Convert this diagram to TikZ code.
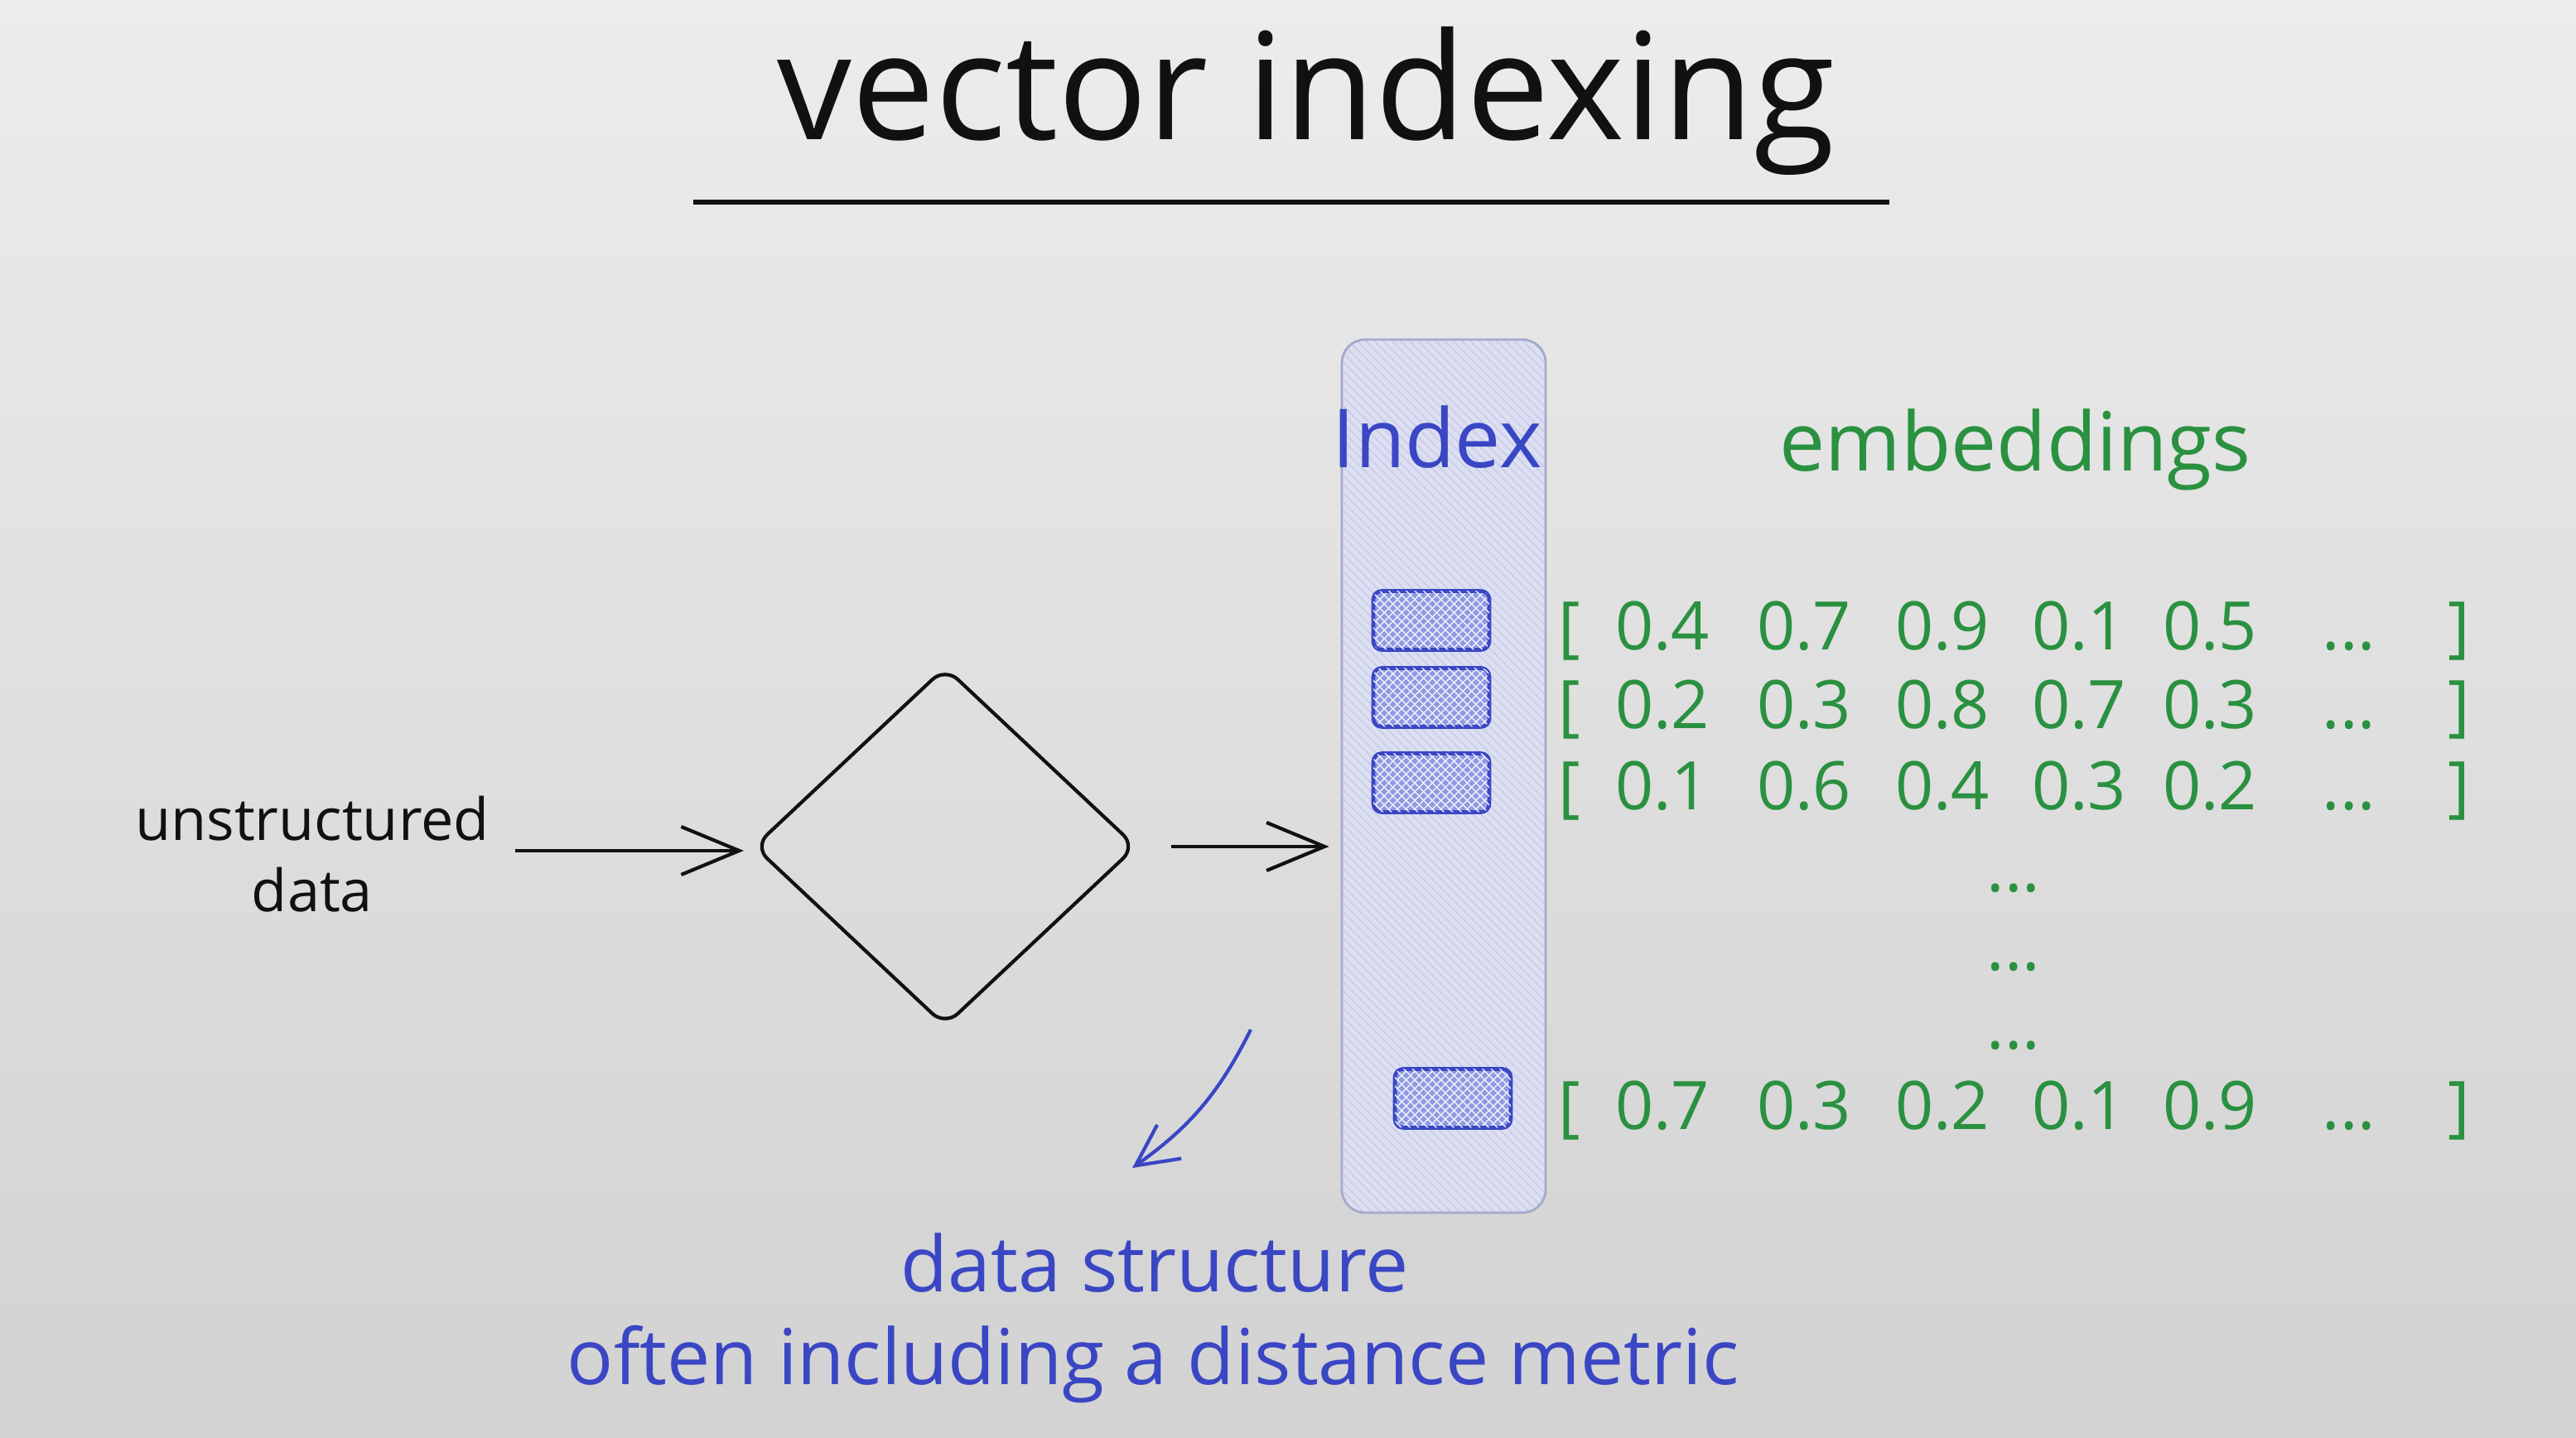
\documentclass[tikz,border=0pt]{standalone}
\usepackage{fontspec}
\setmainfont{Open Sans}
\usetikzlibrary{arrows.meta,positioning,calc,patterns,shapes.geometric}
\definecolor{inkblue}{HTML}{3A46C4}
\definecolor{inkgreen}{HTML}{2A9140}
\definecolor{inkblack}{HTML}{111111}
\definecolor{colfill}{HTML}{DCDFF4}
\definecolor{colline}{HTML}{A4AACB}
\definecolor{cellfill}{HTML}{8E9AE2}
\definecolor{bgtop}{HTML}{ECECEC}
\definecolor{bgbot}{HTML}{D2D2D2}
\tikzset{
        every node/.style={inner sep=0pt}, % Text sits right on its anchor
        sketch/.style={ % Black strokes and open arrow heads
            draw=inkblack,
            line width=1.2pt,
            -{Straight Barb[length=0.7cm,width=0.58cm,line width=1.2pt]}},
        column/.style={ % The tall hatched index box
            draw=colline,
            line width=0.8pt,
            rounded corners=0.28cm,
            preaction={fill=colfill},
            pattern=north west lines,
            pattern color=colline!60},
        cell/.style={ % Crosshatched slots in the index
            draw=inkblue,
            line width=1.3pt,
            rounded corners=0.1cm,
            minimum width=1.4cm,
            minimum height=0.71cm,
            preaction={fill=cellfill},
            pattern=north east lines,
            pattern color=white!85!cellfill,
            postaction={pattern=north west lines, pattern color=white!85!cellfill}},
        vec/.style={ % One value of an embedding
            text=inkgreen,
            anchor=base,
            font=\fontsize{23}{27}\selectfont}
        }

\begin{document}
\begin{tikzpicture}
    \useasboundingbox (0,0) rectangle (31.1,17.36);
    \shade[top color=bgtop, middle color=bgtop, bottom color=bgbot] (0,0) rectangle (31.1,17.36);

    % title
    \node[anchor=base, text=inkblack, font=\fontsize{51}{60}\selectfont] (title) at (15.77,15.67) {vector indexing};
    \coordinate (ul-l) at (8.37,14.92);
    \coordinate (ul-r) at (22.81,14.92);
    \draw[inkblack, line width=1.8pt] (ul-l) -- (ul-r);

    % input, process, index
    \node[align=center, text=inkblack, font=\fontsize{20}{24.5}\selectfont] (src) at (3.77,7.05) {unstructured\\data};
    \node[diamond, draw=inkblack, line width=1.2pt, rounded corners=6pt,
          minimum width=4.62cm, minimum height=4.34cm] (proc) at (11.41,7.14) {};
    \node[column, minimum width=2.46cm, minimum height=10.54cm] (col) at (17.43,7.99) {};
    \node[anchor=base, text=inkblue, font=\fontsize{28}{32}\selectfont] (idx) at (17.35,11.71) {Index};

    \node[cell] (c1) at (17.28,9.87) {};
    \node[cell] (c2) at (17.28,8.94) {};
    \node[cell] (c3) at (17.28,7.91) {};
    \node[cell] (c4) at (17.54,4.10) {};

    \draw[sketch, shorten <=0.3cm, shorten >=0.1cm] (src.east |- proc) ++(0,-0.05) coordinate (a1) -- (a1 -| proc.west);
    \draw[sketch, shorten <=0.4cm, shorten >=0.14cm] (proc.east) -- (proc.east -| col.west);

    % embeddings
    \node[anchor=base, text=inkgreen, font=\fontsize{28}{32}\selectfont] (emb) at (24.33,11.67) {embeddings};
    \foreach \r/\yy/\a/\b/\c/\d/\e in {1/9.51/0.4/0.7/0.9/0.1/0.5, 2/8.56/0.2/0.3/0.8/0.7/0.3,
                                        3/7.58/0.1/0.6/0.4/0.3/0.2, 4/3.72/0.7/0.3/0.2/0.1/0.9}
    {
        \node[vec] (row\r-l) at (18.95,\yy) {[};
        \foreach \v/\xx [count=\k] in {\a/20.07,\b/21.78,\c/23.45,\d/25.1,\e/26.68}
            \node[vec] (row\r-\k) at (\xx,\yy) {\v};
        \node[vec] (row\r-m) at (28.36,\yy) {...};
        \node[vec] (row\r-r) at (29.69,\yy) {]};
    }
    \foreach \yy [count=\k] in {6.59,5.64,4.69}
        \node[vec] (gap\k) at (24.31,\yy) {...};

    % note on the index
    \coordinate (nt-a) at (15.10,4.93);
    \coordinate (nt-b) at (13.67,3.26);
    \draw[inkblue, line width=1.2pt, -{Straight Barb[length=0.5cm,width=0.5cm,line width=1.2pt]}]
        (nt-a) to[bend left=14] (nt-b);
    \node[anchor=base, text=inkblue, font=\fontsize{26.5}{30}\selectfont] (note1) at (13.94,1.76) {data structure};
    \node[anchor=base, text=inkblue, font=\fontsize{26.5}{30}\selectfont] (note2) at (13.92,0.64) {often including a distance metric};
\end{tikzpicture}
\end{document}
